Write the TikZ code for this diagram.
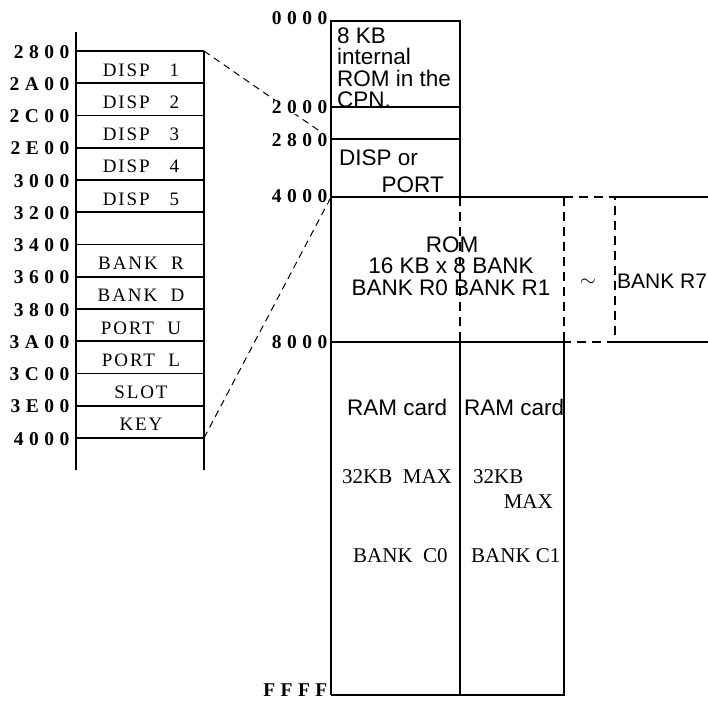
\documentclass[tikz,border=0pt]{standalone}
\usepackage{fontspec}
\setmainfont{Liberation Serif}
\newfontfamily\addrfont[LetterSpace=28]{Liberation Serif}
\newfontfamily\cellfont[LetterSpace=10]{Liberation Serif}
\newfontfamily\romfont{Liberation Sans}
\usetikzlibrary{positioning,calc,backgrounds}
\pgfdeclarelayer{edgelayer}
\pgfdeclarelayer{nodelayer}
\pgfsetlayers{background,edgelayer,nodelayer,main}
\tikzstyle{none}=[inner sep=0mm]
\tikzstyle{addr}=[inner sep=0.5pt,anchor=base east,fill=white,font=\addrfont\bfseries\fontsize{19.5}{19.5}\selectfont]
\tikzstyle{cell}=[inner sep=0mm,anchor=base,font=\cellfont\fontsize{19}{19}\selectfont]
\tikzstyle{ram}=[inner sep=0mm,anchor=base west,font=\fontsize{21}{21}\selectfont]
\tikzstyle{sans}=[inner sep=0mm,anchor=base west,font=\romfont\fontsize{22.5}{21.5}\selectfont]
\tikzstyle{wall}=[line width=1.8pt]
\tikzstyle{link}=[line width=1pt,dash pattern=on 7pt off 5pt]
\tikzstyle{bankedge}=[line width=1.8pt,dash pattern=on 9pt off 6pt]

\begin{document}
\begin{tikzpicture}[x=1pt,y=-1pt]
	\clip (0,0) rectangle (708,701);
	\begin{pgfonlayer}{nodelayer}
		% I/O page addresses
		\foreach \a [count=\i from 0] in {2800,2A00,2C00,2E00,3000,3200,3400,3600,3800,3A00,3C00,3E00,4000}
			\node [style=addr] (l\a) at (70, 51+32.25*\i+7) {\a};
		\foreach \i/\t in {0/DISP~~~1,1/DISP~~~2,2/DISP~~~3,3/DISP~~~4,4/DISP~~~5,6/BANK~~R,7/BANK~~D,8/PORT~~U,9/PORT~~L,10/SLOT,11/KEY}
			\node [style=cell] (c\i) at (141, 51+32.25*\i+25) {\t};
		% main map addresses
		\node [style=addr] (m0000) at (328, 25) {0000};
		\node [style=addr] (m2000) at (328, 113) {2000};
		\node [style=addr] (m2800) at (328, 146) {2800};
		\node [style=addr] (m4000) at (328, 202) {4000};
		\node [style=addr] (m8000) at (328, 348) {8000};
		\node [style=addr] (mFFFF) at (328, 696) {FFFF};
		% contents
		\node [style=sans,anchor=north west,align=left] (cpu) at (337, 27.5) {8 KB\\internal\\ROM in the\\CPN.};
		\node [style=sans] (disp) at (339, 165) {DISP or};
		\node [style=sans,anchor=base east] (port) at (444, 192) {PORT};
		\node [style=sans,anchor=base] (rom) at (452, 252) {ROM};
		\node [style=sans,anchor=base] (romsize) at (451, 273) {16 KB x 8 BANK};
		\node [style=sans,anchor=base] (romb) at (451, 295) {BANK R0 BANK R1};
		\node [style=none] (tilde) at (588, 283) {\fontsize{21}{21}\selectfont$\sim$};
		\node [style=sans,font=\romfont\fontsize{21}{21}\selectfont] (r7) at (617, 288) {BANK R7};
		\node [style=sans] (ram0) at (347, 415) {RAM card};
		\node [style=sans] (ram1) at (464, 415) {RAM card};
		\node [style=ram] (max0) at (342, 483) {32KB~~MAX};
		\node [style=ram] (kb1) at (473, 483) {32KB};
		\node [style=ram,anchor=base east] (max1) at (553, 508) {MAX};
		\node [style=ram] (c0) at (353, 562) {BANK~~C0};
		\node [style=ram] (c1) at (471, 562) {BANK C1};
	\end{pgfonlayer}
	\begin{pgfonlayer}{edgelayer}
		% I/O page
		\draw [style=wall] (76, 32) -- (76, 470);
		\draw [style=wall] (204, 51) -- (204, 470);
		\foreach \i in {0,...,12}
			\draw [style=wall] (76, 51+32.25*\i) -- (204, 51+32.25*\i);
		% main map
		\draw [style=wall] (331, 695) -- (331, 21) -- (460, 21) -- (460, 197);
		\draw [style=wall] (331, 107) -- (460, 107);
		\draw [style=wall] (331, 139) -- (460, 139);
		\draw [style=wall] (331, 197) -- (564, 197);
		\draw [style=wall] (331, 342) -- (564, 342);
		\draw [style=wall] (460, 342) -- (460, 695);
		\draw [style=wall] (564, 342) -- (564, 695) -- (331, 695);
		\draw [style=bankedge] (460, 197) -- (460, 342);
		\draw [style=bankedge] (564, 197) -- (564, 342);
		\draw [style=bankedge] (564, 197) -- (615, 197) -- (615, 342) -- (564, 342);
		\draw [style=wall] (615, 197) -- (710, 197);
		\draw [style=wall] (615, 342) -- (710, 342);
		% zoom links
		\coordinate (top) at (204, 51);
		\coordinate (bot) at (204, 438);
		\coordinate (dtop) at (331, 139);
		\coordinate (dbot) at (331, 197);
		\draw [style=link] (top) -- (dtop);
		\draw [style=link] (bot) -- (dbot);
	\end{pgfonlayer}
\end{tikzpicture}
\end{document}
